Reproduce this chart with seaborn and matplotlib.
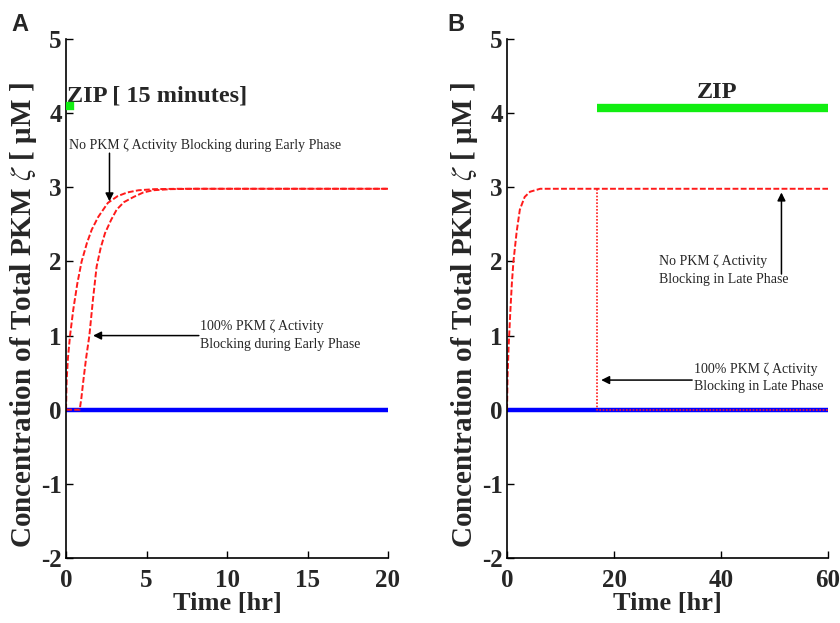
import matplotlib
matplotlib.use("Agg")
import matplotlib.pyplot as plt
import seaborn as sns
import pandas as pd

# ---- data ----------------------------------------------------------------
# Panel A: ZIP applied for 15 minutes during the early phase (time in hr)
a_no_block_t = [0, 0.04, 0.12, 0.25, 0.45, 0.7, 0.97, 1.3, 1.6, 2.0, 2.6, 3.2,
                3.8, 4.5, 5.5, 7, 10, 20]
a_no_block_v = [0, 0.4, 0.7, 1.0, 1.35, 1.7, 2.0, 2.25, 2.43, 2.6, 2.79, 2.88,
                2.93, 2.96, 2.975, 2.98, 2.98, 2.98]
a_block_t = [0, 0.85, 0.95, 1.08, 1.25, 1.45, 1.68, 1.9, 2.15, 2.42, 2.8, 3.15,
             3.6, 4.2, 4.8, 5.4, 6.5, 8, 20]
a_block_v = [0, 0, 0.15, 0.4, 0.7, 1.0, 1.5, 1.93, 2.18, 2.38, 2.56, 2.7,
             2.8, 2.87, 2.93, 2.96, 2.975, 2.98, 2.98]
a_base_t = [0, 20]
a_base_v = [0, 0]
a_zip_t = [0, 0.25]
a_zip_level = 4.1

# Panel B: ZIP applied during the late phase
b_no_block_t = [0, 0.1, 0.3, 0.6, 0.9, 1.2, 1.8, 2.4, 3.3, 4.3, 6.2, 10, 60]
b_no_block_v = [0, 0.45, 0.85, 1.3, 1.7, 2.0, 2.4, 2.7, 2.87, 2.94, 2.98, 2.98, 2.98]
b_block_t = [16.75, 16.75, 60]
b_block_v = [2.98, 0, 0]
b_base_t = [0, 60]
b_base_v = [0, 0]
b_zip_t = [16.75, 60]
b_zip_level = 4.07

x_ticks_a = [0, 5, 10, 15, 20]
x_ticks_b = [0, 20, 40, 60]
y_ticks = [-2, -1, 0, 1, 2, 3, 4, 5]

# ---- style ---------------------------------------------------------------
sns.set_theme(style="ticks")
plt.rcParams["font.family"] = ["Liberation Serif", "DejaVu Serif"]
plt.rcParams["mathtext.fontset"] = "stix"
plt.rcParams["xtick.direction"] = "in"
plt.rcParams["ytick.direction"] = "in"

RED = "#ff1a1a"
BLUE = "#0000ff"
GREEN = "#11ee11"
TICK_FS = 18
LABEL_FS = 21
NOTE_FS = 10

fig = plt.figure(figsize=(8.4, 6.23), dpi=100)
ax_a = fig.add_axes([0.0786, 0.1043, 0.3833, 0.8331])
ax_b = fig.add_axes([0.6036, 0.1043, 0.3821, 0.8331])


def line(ax, t, v, **kw):
    df = pd.DataFrame({"t": t, "v": v})
    sns.lineplot(data=df, x="t", y="v", ax=ax, sort=False, estimator=None, **kw)


def arrow(ax, tip, tail):
    ax.annotate("", xy=tip, xytext=tail,
                arrowprops=dict(arrowstyle="-|>", color="black", lw=1.1,
                                mutation_scale=12, shrinkA=0, shrinkB=0))


def style_axis(ax, xlim, xticks):
    ax.set_xlim(*xlim)
    ax.set_ylim(-2, 5)
    ax.set_xticks(xticks)
    ax.set_yticks(y_ticks)
    ax.set_xticklabels([str(x) for x in xticks], fontsize=TICK_FS, fontweight="bold")
    ax.set_yticklabels([str(y) for y in y_ticks], fontsize=TICK_FS, fontweight="bold")
    ax.tick_params(axis="both", length=5, width=1, color="black")
    ax.tick_params(axis="x", pad=8)
    ax.tick_params(axis="y", pad=3)
    for side in ("top", "right"):
        ax.spines[side].set_visible(False)
    for side in ("left", "bottom"):
        ax.spines[side].set_color("black")
        ax.spines[side].set_linewidth(1.2)
    ax.set_xlabel("Time [hr]", fontsize=19, fontweight="bold", labelpad=0)
    ax.set_ylabel(r"Concentration of Total PKM $\zeta$ [ μM ]",
                  fontsize=LABEL_FS, fontweight="bold")
    ax.yaxis.set_label_coords(-0.083, 0.468)


# ---- panel A -------------------------------------------------------------
line(ax_a, a_base_t, a_base_v, color=BLUE, linewidth=3.2)
line(ax_a, a_no_block_t, a_no_block_v, color=RED, linewidth=1.4, linestyle=(0, (3, 1.2)))
line(ax_a, a_block_t, a_block_v, color=RED, linewidth=1.4, linestyle=(0, (3, 1.2)))
line(ax_a, a_zip_t, [a_zip_level] * 2, color=GREEN, linewidth=6,
     solid_capstyle="projecting", zorder=5)
style_axis(ax_a, (0, 20), x_ticks_a)

ax_a.text(0.05, 4.16, "ZIP [ 15 minutes]", fontsize=17.5, fontweight="bold", va="baseline")
ax_a.text(0.2, 3.52, "No PKM ζ Activity Blocking during Early Phase", fontsize=NOTE_FS)
arrow(ax_a, (2.7, 2.81), (2.7, 3.46))
ax_a.text(8.35, 1.0, "100% PKM ζ Activity\nBlocking during Early Phase",
          fontsize=NOTE_FS, va="center", linespacing=1.45)
arrow(ax_a, (1.68, 1.0), (8.25, 1.0))

# ---- panel B -------------------------------------------------------------
line(ax_b, b_base_t, b_base_v, color=BLUE, linewidth=3.2)
line(ax_b, b_no_block_t, b_no_block_v, color=RED, linewidth=1.4, linestyle=(0, (3, 1.2)))
line(ax_b, b_block_t, b_block_v, color=RED, linewidth=1.2, linestyle=(0, (1, 1)))
line(ax_b, b_zip_t, [b_zip_level] * 2, color=GREEN, linewidth=6, solid_capstyle="butt")
style_axis(ax_b, (0, 60), x_ticks_b)

ax_b.text(39.3, 4.2, "ZIP", fontsize=17.5, fontweight="bold", ha="center", va="baseline")
ax_b.text(28.5, 1.88, "No PKM ζ Activity\nBlocking in Late Phase",
          fontsize=NOTE_FS, va="center", linespacing=1.45)
arrow(ax_b, (51.3, 2.93), (51.3, 1.83))
ax_b.text(35.0, 0.43, "100% PKM ζ Activity\nBlocking in Late Phase",
          fontsize=NOTE_FS, va="center", linespacing=1.45)
arrow(ax_b, (17.6, 0.4), (34.6, 0.4))

# ---- panel letters -------------------------------------------------------
fig.text(0.014, 0.96, "A", fontsize=17, fontweight="bold",
         family=["Liberation Sans", "DejaVu Sans"], va="center")
fig.text(0.532, 0.96, "B", fontsize=17, fontweight="bold",
         family=["Liberation Sans", "DejaVu Sans"], va="center")

fig.savefig("out.png", dpi=100)
